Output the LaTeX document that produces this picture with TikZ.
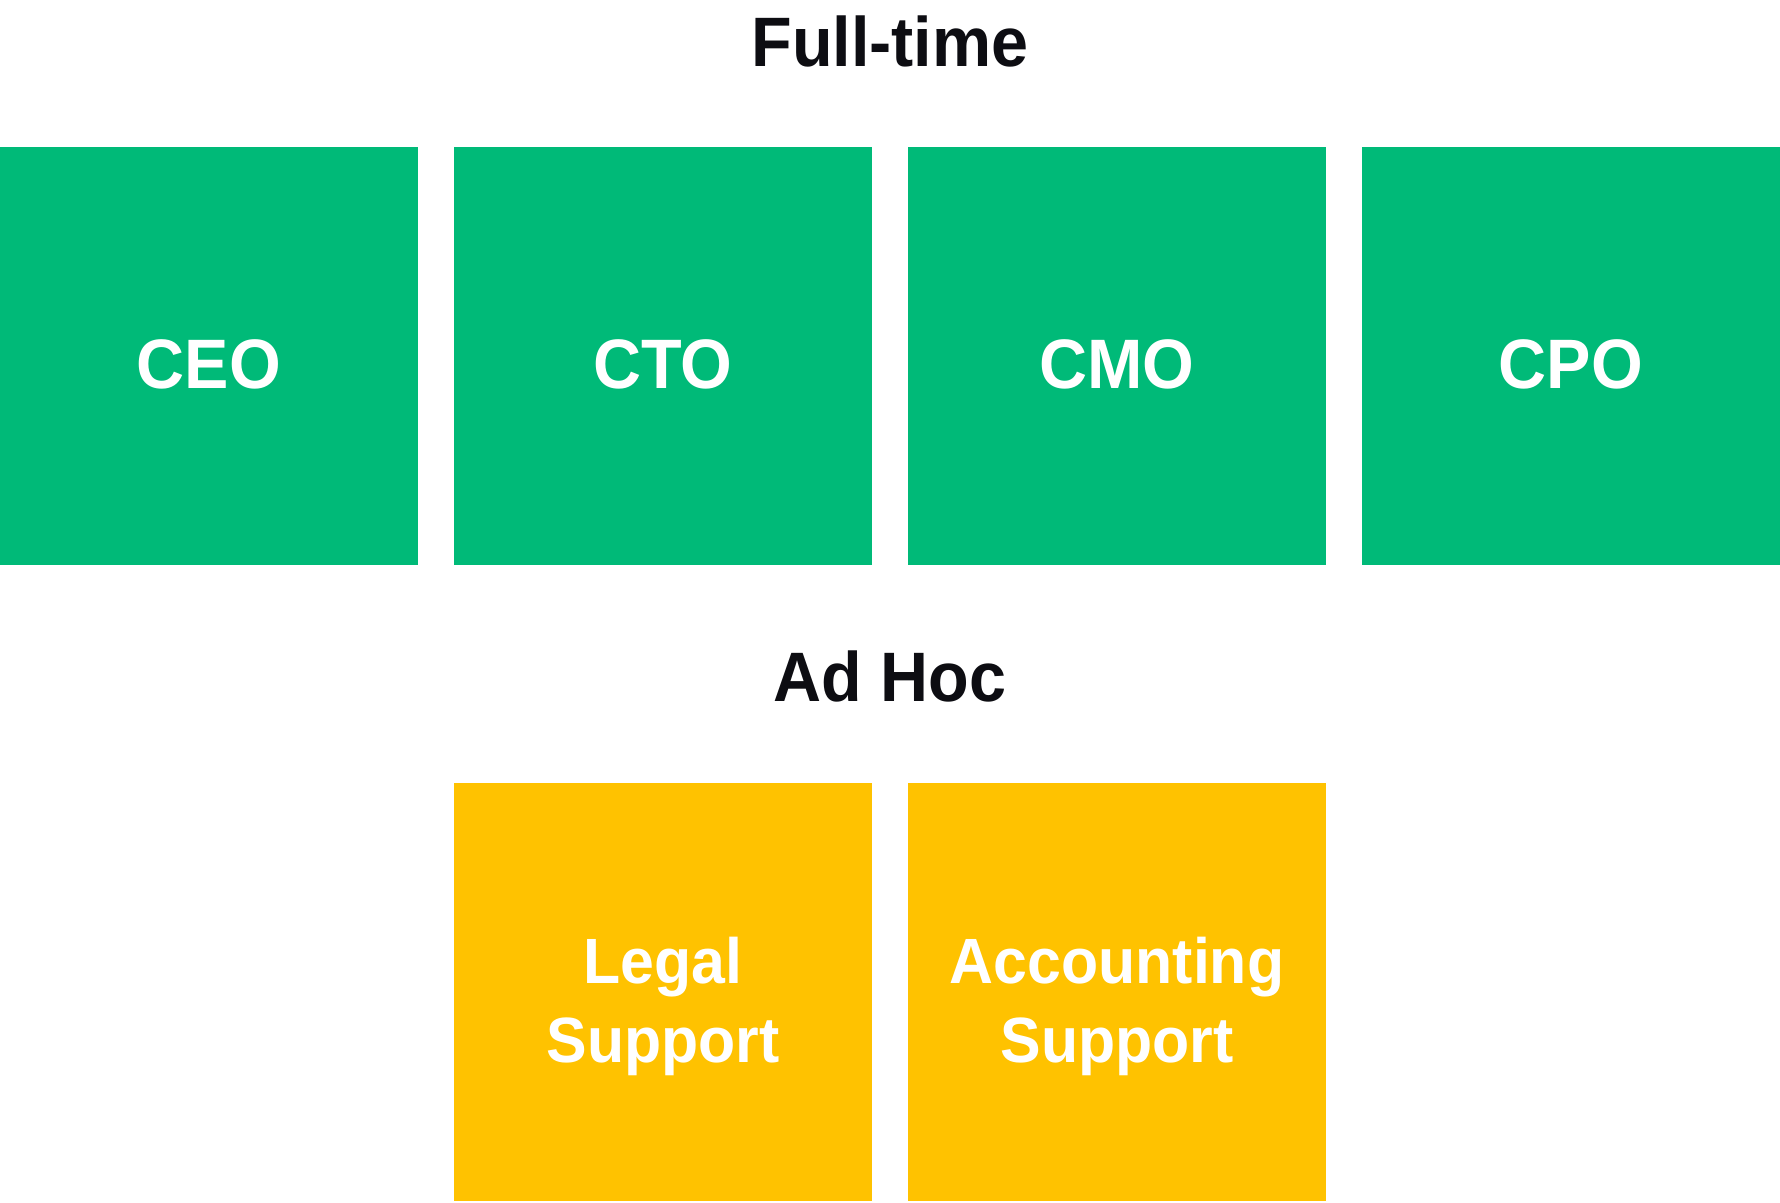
\documentclass[tikz,border=0pt]{standalone}
\usepackage{fontspec}
\newfontfamily\boxfont[FakeStretch=0.95]{Liberation Sans}
\usepackage{tikz}
\definecolor{fullgreen}{RGB}{0,186,120}
\definecolor{adhocyellow}{RGB}{255,194,0}
\definecolor{headblack}{RGB}{13,13,18}

\begin{document}
\begin{tikzpicture}[x=1pt,y=1pt,yscale=-1,xscale=1,
  rolebox/.style={inner sep=0pt,minimum width=418pt,minimum height=418pt},
  rolelabel/.style={inner sep=0pt,text=white,font=\boxfont\bfseries\fontsize{70}{79}\selectfont,anchor=base},
  supportlabel/.style={inner sep=0pt,text=white,font=\boxfont\bfseries\fontsize{64}{79}\selectfont,align=center},
  grouplabel/.style={inner sep=0pt,text=headblack,font=\boxfont\bfseries\fontsize{70}{79}\selectfont,anchor=base}]
\useasboundingbox (0,0) rectangle (1780,1202);

% Text Node
\node (fulltime) [grouplabel] at (890,66.5) {Full-time};

%Shape: Rectangle
\node (ceo) [rolebox,fill=fullgreen] at (209,355.5) {};
%Shape: Rectangle
\node (cto) [rolebox,fill=fullgreen] at (663,355.5) {};
%Shape: Rectangle
\node (cmo) [rolebox,fill=fullgreen] at (1117,355.5) {};
%Shape: Rectangle
\node (cpo) [rolebox,fill=fullgreen] at (1571,355.5) {};

% Text Node
\node (ceolabel) [rolelabel] at (209,388) {CEO};
% Text Node
\node (ctolabel) [rolelabel] at (663,388) {CTO};
% Text Node
\node (cmolabel) [rolelabel] at (1117,388) {CMO};
% Text Node
\node (cpolabel) [rolelabel] at (1571,388) {CPO};

% Text Node
\node (adhoc) [grouplabel] at (890,701.5) {Ad Hoc};

%Shape: Rectangle
\node (legal) [rolebox,fill=adhocyellow] at (663,992) {};
%Shape: Rectangle
\node (accounting) [rolebox,fill=adhocyellow] at (1117,992) {};

% Text Node
\node (legallabel) [supportlabel] at (663,1006.5) {Legal\\Support};
% Text Node
\node (accountinglabel) [supportlabel] at (1117,1006.5) {Accounting\\Support};

\end{tikzpicture}
\end{document}
